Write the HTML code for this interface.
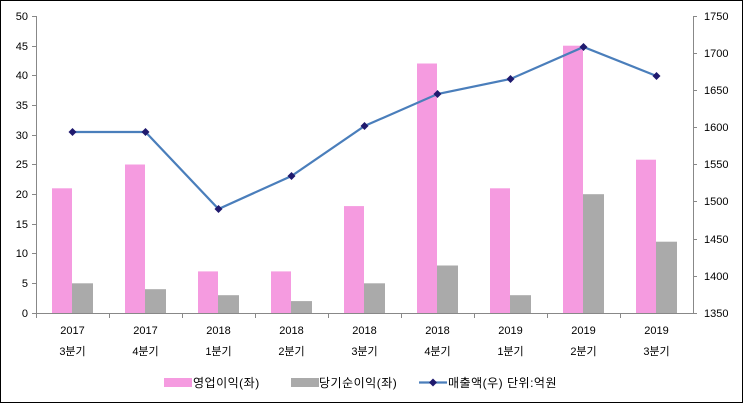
<!DOCTYPE html><html><head><meta charset="utf-8"><style>body{margin:0;background:#fff}svg{display:block}text{font-family:"Liberation Sans","Noto Sans CJK KR",sans-serif;font-size:11px;fill:#000}.lg{font-size:12px;letter-spacing:0.5px}</style></head><body>
<svg width="743" height="403" viewBox="0 0 743 403">
<rect x="0.5" y="0.5" width="742" height="402" fill="#fff" stroke="#000"/>
<g stroke="#888" stroke-width="1">
<line x1="36.5" y1="16" x2="36.5" y2="313"/><line x1="693.5" y1="16" x2="693.5" y2="313"/>
<line x1="36" y1="313.5" x2="693" y2="313.5"/>
</g>
<g stroke="#888">
<line x1="32" x2="36" y1="16.5" y2="16.5"/><line x1="32" x2="36" y1="46.5" y2="46.5"/><line x1="32" x2="36" y1="75.5" y2="75.5"/><line x1="32" x2="36" y1="105.5" y2="105.5"/><line x1="32" x2="36" y1="135.5" y2="135.5"/><line x1="32" x2="36" y1="164.5" y2="164.5"/><line x1="32" x2="36" y1="194.5" y2="194.5"/><line x1="32" x2="36" y1="224.5" y2="224.5"/><line x1="32" x2="36" y1="253.5" y2="253.5"/><line x1="32" x2="36" y1="283.5" y2="283.5"/><line x1="32" x2="36" y1="313.5" y2="313.5"/>
<line x1="693" x2="697" y1="16.5" y2="16.5"/><line x1="693" x2="697" y1="53.5" y2="53.5"/><line x1="693" x2="697" y1="90.5" y2="90.5"/><line x1="693" x2="697" y1="127.5" y2="127.5"/><line x1="693" x2="697" y1="164.5" y2="164.5"/><line x1="693" x2="697" y1="201.5" y2="201.5"/><line x1="693" x2="697" y1="239.5" y2="239.5"/><line x1="693" x2="697" y1="276.5" y2="276.5"/><line x1="693" x2="697" y1="313.5" y2="313.5"/>
<line x1="109.5" x2="109.5" y1="313" y2="318"/><line x1="182.5" x2="182.5" y1="313" y2="318"/><line x1="255.5" x2="255.5" y1="313" y2="318"/><line x1="328.5" x2="328.5" y1="313" y2="318"/><line x1="401.5" x2="401.5" y1="313" y2="318"/><line x1="474.5" x2="474.5" y1="313" y2="318"/><line x1="547.5" x2="547.5" y1="313" y2="318"/><line x1="620.5" x2="620.5" y1="313" y2="318"/><line x1="36.5" x2="36.5" y1="313" y2="318"/>
</g>
<g text-anchor="end">
<text x="28" y="20">50</text><text x="28" y="50">45</text><text x="28" y="79">40</text><text x="28" y="109">35</text><text x="28" y="139">30</text><text x="28" y="168">25</text><text x="28" y="198">20</text><text x="28" y="228">15</text><text x="28" y="257">10</text><text x="28" y="287">5</text><text x="28" y="317">0</text>
</g>
<g>
<text x="704" y="20">1750</text><text x="704" y="57">1700</text><text x="704" y="94">1650</text><text x="704" y="131">1600</text><text x="704" y="168">1550</text><text x="704" y="205">1500</text><text x="704" y="243">1450</text><text x="704" y="280">1400</text><text x="704" y="317">1350</text>
</g>
<g fill="#F59BE0">
<rect x="52" y="188.3" width="20" height="124.7"/><rect x="125" y="164.5" width="20" height="148.5"/><rect x="198" y="271.4" width="20" height="41.6"/><rect x="271" y="271.4" width="20" height="41.6"/><rect x="344" y="206.1" width="20" height="106.9"/><rect x="417" y="63.5" width="20" height="249.5"/><rect x="490" y="188.3" width="20" height="124.7"/><rect x="563" y="45.7" width="20" height="267.3"/><rect x="636" y="159.7" width="20" height="153.3"/>
</g>
<g fill="#AAAAAA">
<rect x="72" y="283.3" width="21" height="29.7"/><rect x="145" y="289.2" width="21" height="23.8"/><rect x="218" y="295.2" width="21" height="17.8"/><rect x="291" y="301.1" width="21" height="11.9"/><rect x="364" y="283.3" width="21" height="29.7"/><rect x="437" y="265.5" width="21" height="47.5"/><rect x="510" y="295.2" width="21" height="17.8"/><rect x="583" y="194.2" width="21" height="118.8"/><rect x="656" y="241.7" width="21" height="71.3"/>
</g>
<polyline fill="none" stroke="#4A7EBB" stroke-width="2.2" points="72.5,132 145.5,132 218.5,209 291.5,176 364.5,126 437.5,94 510.5,79 583.5,47 656.5,76"/>
<g fill="#1F1A6E">
<path d="M72.5,128l4,4l-4,4l-4,-4z"/><path d="M145.5,128l4,4l-4,4l-4,-4z"/><path d="M218.5,205l4,4l-4,4l-4,-4z"/><path d="M291.5,172l4,4l-4,4l-4,-4z"/><path d="M364.5,122l4,4l-4,4l-4,-4z"/><path d="M437.5,90l4,4l-4,4l-4,-4z"/><path d="M510.5,75l4,4l-4,4l-4,-4z"/><path d="M583.5,43l4,4l-4,4l-4,-4z"/><path d="M656.5,72l4,4l-4,4l-4,-4z"/>
</g>
<g text-anchor="middle">
<text x="72.5" y="334">2017</text><text x="145.5" y="334">2017</text><text x="218.5" y="334">2018</text><text x="291.5" y="334">2018</text><text x="364.5" y="334">2018</text><text x="437.5" y="334">2018</text><text x="510.5" y="334">2019</text><text x="583.5" y="334">2019</text><text x="656.5" y="334">2019</text>
<text x="72.5" y="355">3분기</text><text x="145.5" y="355">4분기</text><text x="218.5" y="355">1분기</text><text x="291.5" y="355">2분기</text><text x="364.5" y="355">3분기</text><text x="437.5" y="355">4분기</text><text x="510.5" y="355">1분기</text><text x="583.5" y="355">2분기</text><text x="656.5" y="355">3분기</text>
</g>
<rect x="164" y="378" width="28" height="9" fill="#F59BE0"/><text class="lg" x="193" y="387">영업이익(좌)</text>
<rect x="291" y="378" width="28" height="9" fill="#AAAAAA"/><text class="lg" x="319" y="387">당기순이익(좌)</text>
<line x1="419" x2="447" y1="382.5" y2="382.5" stroke="#4A7EBB" stroke-width="2.2"/><path d="M433,378.5l4,4l-4,4l-4,-4z" fill="#1F1A6E"/>
<text class="lg" x="448" y="387">매출액(우)  단위:억원</text>
</svg></body></html>
